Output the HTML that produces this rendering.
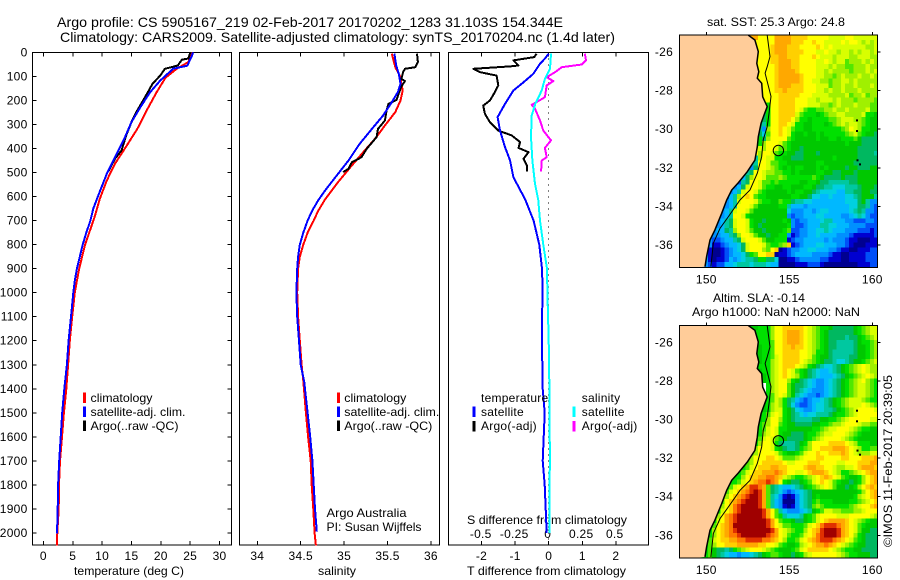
<!DOCTYPE html>
<html>
<head>
<meta charset="utf-8">
<title>Argo profile</title>
<style>
html,body{margin:0;padding:0;background:#fff;}
svg{display:block;font-family:"Liberation Sans",sans-serif;font-size:12px;fill:#000;}
</style>
</head>
<body>
<svg id="chart" width="900" height="580" viewBox="0 0 900 580" xmlns="http://www.w3.org/2000/svg">
<rect x="0" y="0" width="900" height="580" fill="#fff"/>
<text x="57" y="27" font-size="14" textLength="506" lengthAdjust="spacingAndGlyphs">Argo profile: CS 5905167_219 02-Feb-2017 20170202_1283 31.103S 154.344E</text>
<text x="60" y="42" font-size="14" textLength="555" lengthAdjust="spacingAndGlyphs">Climatology: CARS2009. Satellite-adjusted climatology: synTS_20170204.nc (1.4d later)</text>
<text x="707" y="26" textLength="138" lengthAdjust="spacingAndGlyphs">sat. SST: 25.3  Argo: 24.8</text>
<text x="713" y="302" textLength="92" lengthAdjust="spacingAndGlyphs">Altim. SLA: -0.14</text>
<text x="692" y="316" textLength="168" lengthAdjust="spacingAndGlyphs">Argo h1000: NaN h2000: NaN</text>
<text transform="translate(892,547) rotate(-90)" textLength="172" lengthAdjust="spacingAndGlyphs">©IMOS 11-Feb-2017 20:39:05</text>
<text x="74" y="575" textLength="110" lengthAdjust="spacingAndGlyphs">temperature (deg C)</text>
<text x="318" y="575" textLength="38" lengthAdjust="spacingAndGlyphs">salinity</text>
<text x="467" y="575" textLength="159" lengthAdjust="spacingAndGlyphs">T difference from climatology</text>
<text x="467" y="524" textLength="160" lengthAdjust="spacingAndGlyphs">S difference from climatology</text>
<text x="326.5" y="517" textLength="80" lengthAdjust="spacingAndGlyphs">Argo Australia</text>
<text x="326.5" y="531" textLength="95" lengthAdjust="spacingAndGlyphs">PI: Susan Wijffels</text>
</svg>
<script>
/* ---------- profile tick data ---------- */
const depthTicks=[0,100,200,300,400,500,600,700,800,900,1000,1100,1200,1300,1400,1500,1600,1700,1800,1900,2000];
const tempTicks=[0,5,10,15,20,25,30];
const salTicks=[34,34.5,35,35.5,36];
const tDiffTicks=[-2,-1,0,1,2];
const sDiffTicks=[-0.5,-0.25,0,0.25,0.5];

/* ---------- temperature panel ---------- */
const climTempDepth=[0,40,68,105,165,241,318,387,463,533,609,686,750,800,850,900,950,1000,1100,1200,1300,1400,1500,1600,1700,1800,1900,2000,2052];
const climTemp=[25.3,24.7,22.7,20.8,19.3,17.6,16.0,14.2,12.2,10.8,9.6,8.7,7.8,7.1,6.6,6.1,5.7,5.35,4.9,4.5,4.2,3.9,3.5,3.17,2.83,2.66,2.6,2.37,2.3];
const satTempDepth=[0,20,55,68,117,165,228,290,352,436,505,595,650,700,750,800,850,900,950,1000,1100,1200,1300,1400,1500,1600,1700,1800,1900,2003];
const satTemp=[25.5,25.2,24.5,22.1,19.9,18.2,16.5,15.0,13.9,12.2,10.8,9.35,8.5,8.0,7.3,6.7,6.2,5.7,5.35,5.1,4.7,4.3,4.0,3.56,3.2,2.95,2.7,2.5,2.43,2.32];
const argoTempDepth=[0,25,30,54,68,96,130,186,241,290,345,408,442,495];
const argoTemp=[25.0,24.7,23.6,22.9,20.7,19.9,18.6,17.3,16.0,15.0,14.1,13.3,12.2,11.05];

/* ---------- salinity panel ---------- */
const climSalDepth=[5,61,96,158,200,248,304,358,415,470,540,612,660,700,750,800,850,900,1000,1100,1200,1300,1366,1500,1600,1700,1800,1900,2000,2052];
const climSal=[35.55,35.59,35.64,35.675,35.65,35.59,35.47,35.36,35.22,35.09,34.93,34.78,34.7,34.65,34.58,34.53,34.49,34.47,34.46,34.47,34.49,34.51,34.53,34.56,34.585,34.615,34.627,34.645,34.66,34.675];
const satSalDepth=[5,54,89,130,165,207,262,318,380,450,519,575,616,660,700,750,800,850,900,1000,1100,1200,1300,1370,1500,1600,1700,1800,1900,1995];
const satSal=[35.58,35.6,35.63,35.65,35.62,35.55,35.45,35.32,35.18,35.05,34.9,34.78,34.70,34.63,34.58,34.53,34.49,34.47,34.46,34.45,34.46,34.48,34.5,34.54,34.58,34.61,34.635,34.65,34.665,34.685];
const argoSalDepth=[5,40,61,68,82,110,119,144,197,214,241,283,318,352,401,436,457,484,498];
const argoSal=[35.84,35.85,35.82,35.7,35.68,35.66,35.7,35.655,35.605,35.51,35.49,35.47,35.39,35.375,35.26,35.2,35.09,35.05,34.99];

/* ---------- difference panel ---------- */
const argoTDiffDepth=[5,19,33,54,58,68,82,96,137,165,200,221,255,290,325,345,373,397,415,443,470,495];
const argoTDiff=[-0.36,-0.43,-1.05,-0.9,-1.15,-2.24,-2.04,-1.55,-1.5,-1.6,-1.75,-1.95,-1.9,-1.75,-1.5,-1.1,-0.85,-0.9,-0.6,-0.75,-0.65,-0.65];
const satTDiffDepth=[5,25,47,89,124,158,214,269,325,394,450,519,612,700,800,900,1000,1100,1200,1300,1400,1500,1600,1700,1800,1900,2000];
const satTDiff=[0,-0.11,-0.26,-0.46,-0.75,-1.05,-1.3,-1.52,-1.45,-1.3,-1.15,-1.05,-0.7,-0.45,-0.28,-0.2,-0.18,-0.2,-0.2,-0.19,-0.18,-0.12,-0.15,-0.18,-0.12,-0.09,-0.06];
const satSDiffDepth=[5,68,110,158,214,262,352,450,547,612,700,800,900,1000,1200,1400,1500,1700,1800,2000];
const satSDiff=[0.017,0.01,-0.028,-0.052,-0.10,-0.127,-0.132,-0.122,-0.102,-0.078,-0.065,-0.04,-0.013,-0.01,0,0.005,0.005,0.01,0.005,0.005];
const argoSDiffDepth=[5,33,50,61,82,103,119,137,186,218,234,283,325,366,397,436,450,495];
const argoSDiff=[0.27,0.278,0.246,0.097,0.047,-0.015,0.034,-0.015,-0.028,-0.127,-0.102,-0.065,-0.04,0.017,-0.028,-0.015,-0.052,-0.057];

/* ---------- map data ---------- */
const lonTicks=[150,155,160];
const latTicks=[-26,-28,-30,-32,-34,-36];
const profileLon=[154.344];
const profileLat=[-31.103];
const isobathLon=[153.67,153.84,153.67,153.54,153.90,153.78,153.67,153.43,153.34,153.07,152.63,152.03,151.33,150.83,150.42,150.28];
const isobathLat=[-25.13,-26.24,-26.76,-27.1,-28.3,-29.18,-29.87,-30.56,-31.42,-32.28,-33.15,-33.67,-34.53,-35.13,-35.91,-37.12];
const coastLon=[152.53,152.93,153.13,153.04,153.16,153.07,153.34,153.40,153.67,153.48,153.30,153.13,153.07,152.93,152.47,151.93,151.53,151.23,150.93,150.52,150.22,150.02,149.92];
const coastLat=[-25.13,-25.38,-25.98,-26.59,-27.02,-27.36,-27.62,-28.32,-28.83,-29.26,-29.69,-30.39,-30.91,-31.6,-32.2,-32.77,-33.15,-33.67,-34.36,-35.22,-35.74,-36.6,-37.12];
const islandLon=[159.02,159.02,159.05,159.2];
const islandLat=[-29.49,-30.04,-31.56,-31.77];

const sstRows=[
"LLLLLLLLLLLLLLLLPPLZZZZPPPPOOOOZZZZZYYYYZZYYYYYY",
"LLLLLLLLLLLLLLLLLLLZZZZPPPPOOOZZOZZYYYYZYZZYMYMY",
"LLLLLLLLLLLLLLLLLLLZZZOPPPOOOZZZZOZYZYYYYYYYYMMY",
"LLLLLLLLLLLLLLLLLLLZZZOPPPOOOOZZZYYZYYMYYMYMYYMY",
"LLLLLLLLLLLLLLLLLLLZZZOOPPOOOZZZOZYYYMYYYMMYYYMM",
"LLLLLLLLLLLLLLLLLLLZZZOOPPPOOZZZZYYZYMYYKMMMYMYM",
"LLLLLLLLLLLLLLLLLLLZZZZOPPPOOZZZZYYYMYMMKKMMMYMM",
"LLLLLLLLLLLLLLLLLLLZZZZOPPPPOZZZZYYMYMMMMKMMMYMY",
"LLLLLLLLLLLLLLLLLLLZZZZOPPPPPOZZZYYMMKMYMMMYMMYM",
"LLLLLLLLLLLLLLLLLLLZZZZOPPPPPOZZYYMMKMMYYMYMMMMM",
"LLLLLLLLLLLLLLLLLLLLZZZOPPPOOOZZZYYYKMMYMMYMMMYM",
"LLLLLLLLLLLLLLLLLLLLZZZOOPOOOOZZZYYMYMMYMMMYMMMM",
"LLLLLLLLLLLLLLLLLLLLLZZZOOOOOZZZYYYYMMMMYKMMYKMM",
"LLLLLLLLLLLLLLLLLLLLLZZZOOOOZZZYYMYYYMYMMMKMMMMK",
"LLLLLLLLLLLLLLLLLLLLLJZZOOOOZZZYYYMMKMYMMMYMMMKK",
"LLLLLLLLLLLLLLLLLLLLHJZZOOOOZYKJJKKMMYMMYMMMMYKK",
"LLLLLLLLLLLLLLLLLLLLHJZZOOOOYKJJJGJKMMYYMMMMYJJG",
"LLLLLLLLLLLLLLLLLLLLHJZZOOOZMJJGJJJJKKMYYYMMKJGG",
"LLLLLLLLLLLLLLLLLLLLTJZZOOZYJJGGJJJGJKMYMYYMKJGG",
"LLLLLLLLLLLLLLLLLLLTDMZZOZYKJJGGJJJJJJJKMZYMJJGG",
"LLLLLLLLLLLLLLLLLLLHFKZZOZYJGGJGGJGJJJJJKMYKJGGH",
"LLLLLLLLLLLLLLLLLLLJHMZZZZKJGGGGGJGGJJGJJJKGHHHH",
"LLLLLLLLLLLLLLLLLLMJMZZZYKJGGGGGGGGGGGGGJGGGHHHH",
"LLLLLLLLLLLLLLLLLLZYMZZYKKJGGHGGGGGGGGGGGGGHHHHH",
"LLLLLLLLLLLLLLLLLLZMZZYKJJGGHHGGGHGGGGGGGGGHHHHT",
"LLLLLLLLLLLLLLLLLJTMZYYJJGGHHHGGGGGGGJGGGGGHHHHH",
"LLLLLLLLLLLLLLLLLTTZZYKKJJGGGGGGGJJGGGGGGGHHHHHH",
"LLLLLLLLLLLLLLLLTDHZZYMKJGJGJJGGGJGJGGGGHGGHHHGG",
"LLLLLLLLLLLLLLLETHZZYMMKKJJGJGGGGJJGGHHGGGHGGGGG",
"LLLLLLLLLLLLLLCEHMZZYKKKMKJJJJJJKJGHHHHGHHHGGGGG",
"LLLLLLLLLLLLLLCTHZZYKKJKJJJJJGGJJGHHTTTTTHHGGGGG",
"LLLLLLLLLLLLLDEHYZZYKJJGGJJGGGJJGHHTTFFFTTTHGGGH",
"LLLLLLLLLLLCDETYZZYKJGGGGGJGJJGGHTFFFFEETTHHGGHH",
"LLLLLLLLLLLCETMZOZKJJGGGGGGJJGGHFFEEFEEEFFTHGGGT",
"LLLLLLLLLLCDETYZZZYKJJGGKJJHTTFFEEEEEEEEFFFHGTDD",
"LLLLLLLLLLCDETZZZYKGGGGGJJTEEEDEEEEEEEEEEFFHHTDC",
"LLLLLLLLLCDETYZZYKGGGGGGGGFDDDEEDEFFEEEEEFTHTDDC",
"LLLLLLLLLCDETZZYJGGGGGGGGGDCDDEEEFFEEEEDDEFTFDCC",
"LLLLLLLLCDETHYZZYJGGHGGGGJGDCDDEEEFTTEEEDDCCCDDC",
"LLLLLLLLCDETHYZZYJGHGGGGGGJDCCDEEETTFFEEEDDDDCCC",
"LLLLLLLCDEEHTMZZYKGGHGGGGJKCCDDEEFFTFEEEDDDCCCBC",
"LLLLLLLCDDEETHMZZYKGGHGGJJDBCDDEEFEEEEDDDCBBBBBC",
"LLLLLLCDCCDEETHYZZZYKGGJJJBCDDEEEEEDEDDDCBBNNNBB",
"LLLLLLCDBBCDEEFHYZZZYKJJKMOBCDEEEFFEEEDDCBNNNBBB",
"LLLLLLCBNNBCDEFHYZZZMKZONBCDDEEFFEEEDDCBBNNBBBCC",
"LLLLLLDBNNBCDEEFHJKZZOONBBCDEEEEDDDDCBBNNBBBBCCC",
"LLLLLLDBNBBCEDEFTTHJJHHFNNBBCDDDDDCCBBBNNBBBBCCC",
"LLLLLLDCBCCEEFTTTFTTTFEENNNNBBBCCCBNNNNNNNNBBBCC"
];
const slaRows=[
"LLLLLLLLLLLLLLLLGGLJJJMZZOOOOOZYMKJJGHHHHHGJKMYY",
"LLLLLLLLLLLLLLLLLLLJJJMZZOPPPOZYMKJGHHHHHHGJKMYY",
"LLLLLLLLLLLLLLLLLLLJJJMZZOPPPOZYMKJGHHHHTHHGJKMY",
"LLLLLLLLLLLLLLLLLLLJJJKZZOPPPOZYMKJGHHTTTTHGJJKM",
"LLLLLLLLLLLLLLLLLLLGJJKZZOOPOOZYMKJGHHTTTTHGGJKM",
"LLLLLLLLLLLLLLLLLLLGJJKZZOOOOZZYMJJGHTTTTTHGGJKM",
"LLLLLLLLLLLLLLLLLLLGJJKYZOOOOZZYKJGGHTTTTHHGGJKM",
"LLLLLLLLLLLLLLLLLLLGJJMYZOOOOZYMKJGHHTFFTHGGJKMY",
"LLLLLLLLLLLLLLLLLLLJJJMYZOOOZYMJGHTFFTHGJKMYZYMM",
"LLLLLLLLLLLLLLLLLLLGJJMYZOZYKJGHTFEEFTHGJKMYZYMM",
"LLLLLLLLLLLLLLLLLLLWGJMYZOZYMJGHTFEEEFTHGJKMYZYM",
"LLLLLLLLLLLLLLLLLLLWGJMYZZMJGHTFEDDEFTHGJKMYZMKJ",
"LLLLLLLLLLLLLLLLLLLLWJMYZZKGHHTFEDDEFTHGJKMYYMKJ",
"LLLLLLLLLLLLLLLLLLLLWJMYZZKGHTFEDDDEFTHGJKMYYMKJ",
"LLLLLLLLLLLLLLLLLLLLWJKYZYKGTFEDDCDEFTHGJKMYYMKJ",
"LLLLLLLLLLLLLLLLLLLWGJKYMJHTEDCDEEFTHGJKMYYYMKJJ",
"LLLLLLLLLLLLLLLLLLLWGJMYMJHFDCCDEFFTHGJKMYYYZYMK",
"LLLLLLLLLLLLLLLLLLLWGJMYYJGHFEDDEFFTTHGJKMYZZZZY",
"LLLLLLLLLLLLLLLLLLLGJKYZYJGHTFEFFTTTHGJJKMYZZZZZ",
"LLLLLLLLLLLLLLLLLLLGJMZZMJGHTTTTHHGGJJKMYZZZZZYY",
"LLLLLLLLLLLLLLLLLLGJKMZZKJGGHHHHGGJJKMMYZZZYMMKK",
"LLLLLLLLLLLLLLLLLLGJKYZYJJGGGGGGJJKMYYZZZYMKJJGG",
"LLLLLLLLLLLLLLLLLLGJMYZYJGGHHHGJJKMYYZZZYMKJGGGG",
"LLLLLLLLLLLLLLLLLLJKYZYKJGHHHHGJKMYZZZZYMKJGGGGG",
"LLLLLLLLLLLLLLLLLLJMZZYJHTTTHGJMZZZZOOOOZYMJJJGG",
"LLLLLLLLLLLLLLLLLJMZZZYJGHTTHJKMZZOOOPPPOZYMJJKK",
"LLLLLLLLLLLLLLLLJKMZZZZYKJGGJKYZZOZZOOOPOZYMMMYY",
"LLLLLLLLLLLLLLLLJMZZZOOZYKKKMYZZZOOZZZZOOZZZOOOP",
"LLLLLLLLLLLLLLLJKMZZOOOOOZYYZZZOOOZZZZYYZZZOOOPP",
"LLLLLLLLLLLLLLLJKYZOOOPPOOZZZZOPPOOZZYMMYYZOPPPO",
"LLLLLLLLLLLLLLJKYZOOPPPQPOZZYYZOPPPOZYMJJKMYZOPP",
"LLLLLLLLLLLLLLJMZOOPPQQPOYMKJJKMYZOPOZYKJGGJMZOP",
"LLLLLLLLLLLLLJKYZOPQQRQPZJGHHGJKYZOZYKJGGHGJMZOP",
"LLLLLLLLLLLJKYZOPRRQPKHTFEEFTHGJKMYZYKGGHGJMZOPO",
"LLLLLLLLLLJKYZOPQRSRPKHTFDCDEFTHGGGGGGGGGGGJMZOP",
"LLLLLLLLLLJMZOPQRSSRPKTFDBNBDFTHGJGGGGGGGGJMYZOP",
"LLLLLLLLLJKZOPQRSSSRPKTEDNNNDFTHJKJJJGGGGJJKMYZO",
"LLLLLLLLLJMZOQRSSSSRPKTEDBNBDFTHKMKJJJJJJKMYZZOP",
"LLLLLLLLLJYZOQRSSSSSRPZKTEDDDEFTGJKYYMMKKKMMYZZZ",
"LLLLLLLLJMZPQRSSSSSSRPZKJTFFFTGJKYZZZZYYYZZZZZYM",
"LLLLLLLLJYZPQRSSSSSSSRPZKJJGHHGJKYZOPPPPOZYMKJGG",
"LLLLLLLJKZOPQSSSSSSSSRPZYKKJJJKYZOQRRRQPOZYKJGGG",
"LLLLLLLJMZOPQRSSSSSSSSRPZYMKJJMZOPRSSSRPOZYKGGHH",
"LLLLLLLJMZOPQQRSSSSSSRQPZYKJJKYZOQRSSSRPOZMJGHHH",
"LLLLLLJKYZOOPPQQRRRRQQPOZMJJKYZOPQRRRQPOZYKJGHHH",
"LLLLLLJKMZZOOOPPPPPOOZZYKJGGJMYZOPPQPOZYMKJGGHHH",
"LLLLLLJKGHHTHJKMYZZZYMKJGGGJKYZOOOOOZYMKJJGGHHHH",
"LLLLLLJKGHTFEEDEEFTHGJKKJGGHGJMYZZZZZZYMKJJGGGHH"
];
const levelColors={N:"#000090",B:"#0000d0",C:"#0050f8",D:"#0090ff",E:"#00b8ff",F:"#00d0e0",T:"#00c8a0",H:"#00b860",G:"#00c800",J:"#00e000",K:"#50e800",M:"#a0f000",Y:"#d8ff00",Z:"#ffff00",O:"#ffd000",P:"#ffa800",Q:"#ff7800",R:"#e03000",S:"#a00000",W:"#ffffff"};
const landColor="#ffcc99";

/* ---------- helpers ---------- */
const NS="http://www.w3.org/2000/svg";
const svg=document.getElementById("chart");
function make(tag,attrs){
  const el=document.createElementNS(NS,tag);
  for(const k in attrs){el.setAttribute(k,attrs[k]);}
  svg.appendChild(el);
  return el;
}
function label(x,y,str,anchor,name,len){
  const el=make("text",{x:x,y:y,"text-anchor":anchor,"letter-spacing":"0.25"});
  if(len){el.setAttribute("textLength",len);el.setAttribute("lengthAdjust","spacingAndGlyphs");el.removeAttribute("letter-spacing");}
  el.textContent=str;
  
  
  return el;
}
function seg(x1,y1,x2,y2,name,stroke,dash){
  const el=make("line",{x1:x1,y1:y1,x2:x2,y2:y2,stroke:stroke||"#000","stroke-width":1,"shape-rendering":"crispEdges"});
  if(dash){el.setAttribute("stroke-dasharray",dash);}
  
  
  return el;
}
function box(x,y,w,h,name){
  const el=make("rect",{x:x,y:y,width:w,height:h,fill:"none",stroke:"#000","stroke-width":1,"shape-rendering":"crispEdges"});
  
  
  return el;
}
function legendBar(x,y,color,name){
  const el=make("rect",{x:x,y:y,width:3,height:10.5,fill:color});
  
  
  return el;
}

/* ---------- axis functions ---------- */
const plotTop=52.5, plotBottom=545;
const yDepth=d=>plotTop+d*0.2402;
const xTemp=t=>43.4+t*5.87;
const xSal=s=>257.3+(s-34)*86.8;
const xTDiff=t=>548.7+t*33.6;
const xSDiff=s=>548.7+s*134;
const xLon=lon=>706.3+(lon-150)*16.6;
const yLat1=lat=>52+(-26-lat)*19.3;
const yLat2=lat=>342.3+(-26-lat)*19.3;

function profile(depths,values,xFn,color,name){
  const pts=depths.map((d,i)=>xFn(values[i]).toFixed(1)+","+yDepth(d).toFixed(1)).join(" ");
  const el=make("polyline",{points:pts,fill:"none",stroke:color,"stroke-width":2,"stroke-linejoin":"round","shape-rendering":"crispEdges"});
  
  
  return el;
}

/* ---------- profile panels ---------- */
const panels=[[32.5,231.5],[239.5,439.5],[448.5,648.5]];
function frameX(ticks,xFn,left,right,name){
  ticks.forEach(v=>{
    seg(xFn(v),plotTop,xFn(v),plotTop+4,name+"-top-tick");
    seg(xFn(v),plotBottom,xFn(v),plotBottom-4,name+"-bottom-tick");
    label(xFn(v),560,String(v),"middle",name+"-tick-label");
  });
  box(left,plotTop,right-left,plotBottom-plotTop,name+"-panel-frame");
}
frameX(tempTicks,xTemp,panels[0][0],panels[0][1],"temperature");
frameX(salTicks,xSal,panels[1][0],panels[1][1],"salinity");
frameX(tDiffTicks,xTDiff,panels[2][0],panels[2][1],"t-difference");
depthTicks.forEach(d=>{
  seg(panels[0][0],yDepth(d),panels[0][0]+4,yDepth(d),"depth-left-tick");
  seg(panels[0][1],yDepth(d),panels[0][1]-4,yDepth(d),"depth-right-tick");
  label(27.5,yDepth(d)+4,String(d),"end","depth-tick-label");
});
sDiffTicks.forEach(s=>{
  label(xSDiff(s)-1,538,String(s),"middle","s-difference-tick-label");
});
seg(xTDiff(0),plotTop,xTDiff(0),plotBottom,"zero-difference-line","#000","1 5");

profile(climTempDepth,climTemp,xTemp,"#ff0000","temperature-climatology-line");
profile(argoTempDepth,argoTemp,xTemp,"#000000","temperature-argo-line");
profile(satTempDepth,satTemp,xTemp,"#0000ff","temperature-satellite-line");
profile(climSalDepth,climSal,xSal,"#ff0000","salinity-climatology-line");
profile(argoSalDepth,argoSal,xSal,"#000000","salinity-argo-line");
profile(satSalDepth,satSal,xSal,"#0000ff","salinity-satellite-line");
profile(argoTDiffDepth,argoTDiff,xTDiff,"#000000","t-difference-argo-line");
profile(satTDiffDepth,satTDiff,xTDiff,"#0000ff","t-difference-satellite-line");
profile(argoSDiffDepth,argoSDiff,xSDiff,"#ff00ff","s-difference-argo-line");
profile(satSDiffDepth,satSDiff,xSDiff,"#00ffff","s-difference-satellite-line");

/* ---------- legends ---------- */
const legendNames=["climatology","satellite-adj. clim.","Argo(..raw -QC)"];
const legendWidths=[62,95,88];
const legendColors=["#ff0000","#0000ff","#000000"];
[[83,90.5],[337,344.3]].forEach(pos=>{
  legendNames.forEach((n,i)=>{
    legendBar(pos[0],392.5+14*i,legendColors[i],"legend-marker");
    label(pos[1],402+14*i,n,"start","legend-entry",legendWidths[i]);
  });
});
label(481,402,"temperature","start","legend-heading");
label(581.7,402,"salinity","start","legend-heading");
legendBar(472.5,406.5,"#0000ff","legend-marker");
label(481,416,"satellite","start","legend-entry");
legendBar(472.5,421,"#000000","legend-marker");
label(481,430,"Argo(-adj)","start","legend-entry");
legendBar(572.5,406.5,"#00ffff","legend-marker");
label(581.7,416,"satellite","start","legend-entry");
legendBar(572.5,421,"#ff00ff","legend-marker");
label(581.7,430,"Argo(-adj)","start","legend-entry");

/* ---------- maps ---------- */
const gridLon0=148.355, gridLat0=-25.12, gridStep=0.25, gridCols=48;
function drawMap(rows,yLat,name){
  const top=yLat(gridLat0), bottom=top+232.5, left=679.5, right=877.5;
  const clipId=name+"-clip";
  const defs=make("clipPath",{id:clipId});
  const cr=document.createElementNS(NS,"rect");
  cr.setAttribute("x",left);cr.setAttribute("y",top);cr.setAttribute("width",right-left);cr.setAttribute("height",bottom-top);
  defs.appendChild(cr);
  const g=make("g",{"clip-path":"url(#"+clipId+")"});
  
  
  rows.forEach((row,r)=>{
    const firstSea=row.search(/[^L]/);
    for(let c=0;c<gridCols;c++){
      let code=row[c]||row[row.length-1];
      if(code==="L"){code=row[firstSea];}
      const x0=xLon(gridLon0+c*gridStep), x1=xLon(gridLon0+(c+1)*gridStep);
      const y0=yLat(gridLat0-r*gridStep), y1=yLat(gridLat0-(r+1)*gridStep);
      const cell=document.createElementNS(NS,"rect");
      cell.setAttribute("x",x0.toFixed(2));
      cell.setAttribute("y",y0.toFixed(2));
      cell.setAttribute("width",(x1-x0+0.6).toFixed(2));
      cell.setAttribute("height",(y1-y0+0.6).toFixed(2));
      cell.setAttribute("fill",levelColors[code]);
      cell.setAttribute("shape-rendering","crispEdges");
      
      
      g.appendChild(cell);
    }
  });
  const land=document.createElementNS(NS,"polygon");
  const landPts=coastLon.map((v,i)=>xLon(v).toFixed(1)+","+yLat(coastLat[i]).toFixed(1));
  landPts.push(left+","+(bottom+2));
  landPts.push(left+","+(top-2));
  landPts.push(xLon(coastLon[0]).toFixed(1)+","+(top-2));
  land.setAttribute("points",landPts.join(" "));
  land.setAttribute("fill",landColor);
  
  
  g.appendChild(land);
  function path(lons,lats,width,pname){
    const p=document.createElementNS(NS,"polyline");
    p.setAttribute("points",lons.map((v,i)=>xLon(v).toFixed(1)+","+yLat(lats[i]).toFixed(1)).join(" "));
    p.setAttribute("fill","none");
    p.setAttribute("stroke","#000");
    p.setAttribute("stroke-width",width);
    
    
    g.appendChild(p);
  }
  path(coastLon,coastLat,1.5,name+"-coastline");
  path(isobathLon,isobathLat,1,name+"-isobath");
  islandLon.forEach((v,i)=>{
    const d=document.createElementNS(NS,"rect");
    d.setAttribute("x",xLon(v).toFixed(1));
    d.setAttribute("y",yLat(islandLat[i]).toFixed(1));
    d.setAttribute("width",2);
    d.setAttribute("height",2);
    d.setAttribute("fill","#000");
    
    
    g.appendChild(d);
  });
  const ring=make("circle",{cx:xLon(profileLon[0]),cy:yLat(profileLat[0]),r:5.2,fill:"none",stroke:"#000","stroke-width":1});
  
  
  box(left,top,right-left,bottom-top,name+"-frame");
  lonTicks.forEach(v=>{
    seg(xLon(v),top,xLon(v),top-3,name+"-lon-tick");
    label(xLon(v),bottom+16,String(v),"middle",name+"-lon-label");
  });
  latTicks.forEach(v=>{
    seg(right,yLat(v),right+3,yLat(v),name+"-lat-tick");
    label(673,yLat(v)+4,String(v),"end",name+"-lat-label");
  });
}
drawMap(sstRows,yLat1,"sst-map");
drawMap(slaRows,yLat2,"sla-map");
</script>
</body>
</html>
